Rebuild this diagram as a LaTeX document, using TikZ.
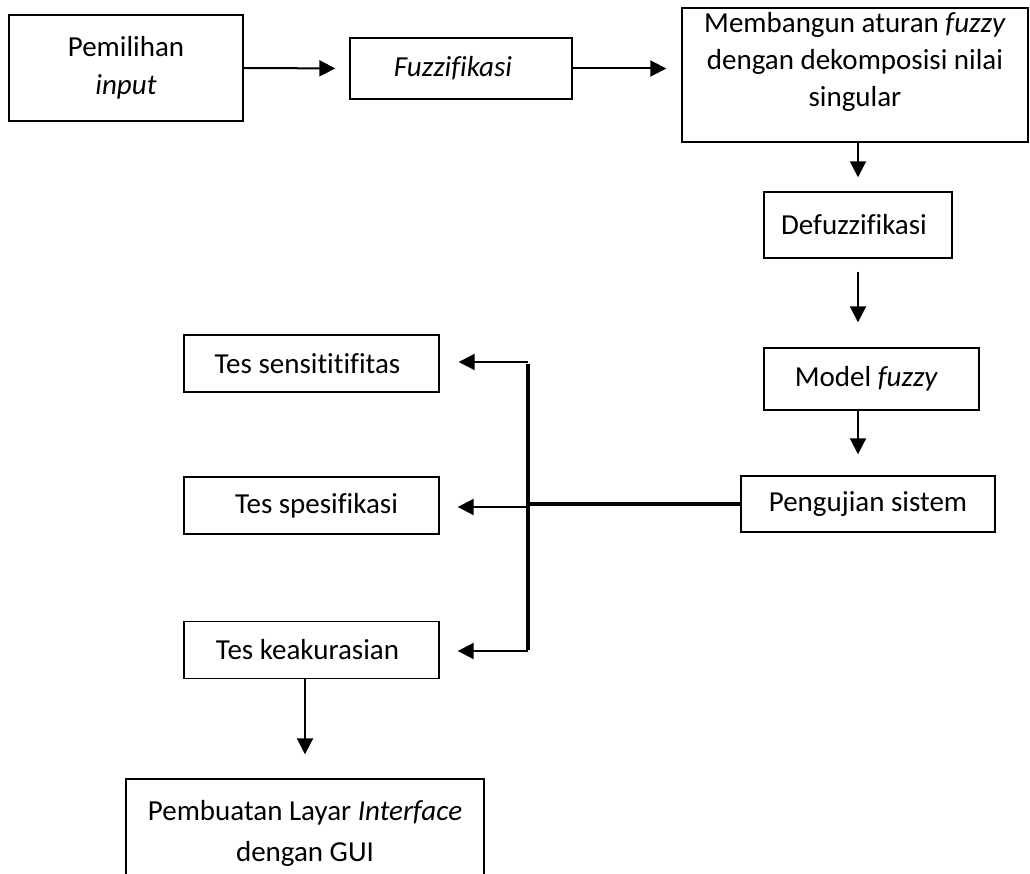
\documentclass[tikz,border=0pt]{standalone}
\usepackage{fontspec}
\setmainfont{Carlito}[Ligatures=NoCommon]
\usetikzlibrary{arrows.meta,calc}
\begin{document}
\begin{tikzpicture}[x=1pt,y=-1pt,
  box/.style={draw,line width=1.4pt,rectangle,inner sep=0pt,align=center,
    font=\fontsize{29}{38}\selectfont},
  arr/.style={line width=2pt,-{Triangle[length=16pt,width=16pt]}},
  trunk/.style={line width=3.3pt}]
\useasboundingbox (0,0) rectangle (1030,874);
\node[box,minimum width=234pt,minimum height=106pt] (b1) at (126,68) {Pemilihan\\\textit{input}};
\node[box,minimum width=222pt,minimum height=61pt] (b2) at (461,68.5) {\textit{Fuzzifikasi}\hspace{16pt}};
\node[box,minimum width=346pt,minimum height=134pt,font=\fontsize{29}{37}\selectfont] (b3) at (855,75) {Membangun aturan \textit{fuzzy}\\dengan dekomposisi nilai\\singular\rule[-32pt]{0pt}{32pt}};
\node[box,minimum width=188pt,minimum height=66pt] (b4) at (858,225) {Defuzzifikasi\hspace{8pt}};
\node[box,minimum width=215pt,minimum height=62pt] (b5) at (871.5,379) {Model \textit{fuzzy}\hspace{10pt}};
\node[box,minimum width=254pt,minimum height=56pt] (b6) at (868,504) {Pengujian sistem};
\node[box,minimum width=255pt,minimum height=57pt] (b7) at (311.5,363.5) {Tes sensititifitas\hspace{8pt}};
\node[box,minimum width=255pt,minimum height=57pt] (b8) at (311.5,505.5) {\hspace{10pt}Tes spesifikasi};
\node[box,minimum width=255pt,minimum height=57pt] (b9) at (311.5,650) {Tes keakurasian\hspace{8pt}};
\node[box,minimum width=358pt,minimum height=109pt,font=\fontsize{29}{41}\selectfont] (b10) at (305,833.5) {Pembuatan Layar \textit{Interface}\\dengan GUI};
\coordinate (j) at (528,507);
% top row
\draw[arr,shorten >=14pt] (b1.east) -- (b2.west);
\draw[arr,shorten >=15pt] (b2.east) -- (b2.east -| b3.west);
% right column
\draw[arr,shorten >=14pt] (b4.north |- b3.south) -- (b4.north);
\draw[arr,shorten <=13pt,shorten >=25pt] (b4.south) -- (b4.south |- b5.north);
\draw[arr,shorten >=21pt] (b4.south |- b5.south) -- (b4.south |- b6.north);
% feed line and trunk
\draw[trunk] (b6.west) -- (b6.west -| j);
\draw[trunk] (b7.east -| j) -- (b9.east -| j);
\draw[arr,shorten >=19pt] ($(b7.east -| j)+(0,-1.5)$) -- ($(b7.east)+(0,-1.5)$);
\draw[arr,shorten >=18pt] (j) -- (j -| b8.east);
\draw[arr,shorten >=18pt] ($(b9.east -| j)+(0,1)$) -- ($(b9.east)+(0,1)$);
% down to GUI
\draw[arr,shorten >=24pt] (b10.north |- b9.south) -- (b10.north);
\end{tikzpicture}
\end{document}
